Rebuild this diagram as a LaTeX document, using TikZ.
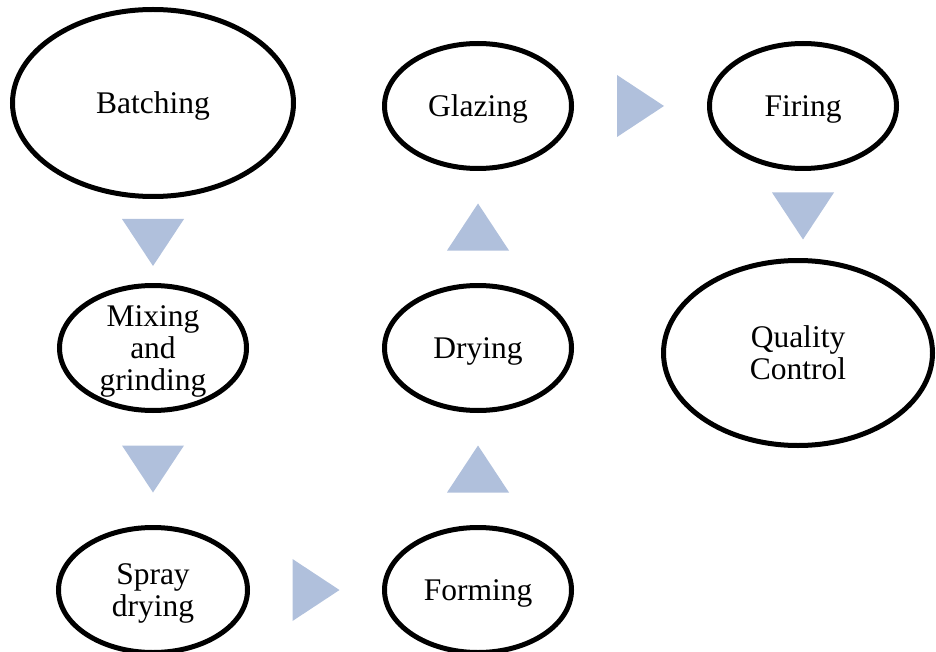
\documentclass[tikz,border=0pt]{standalone}
\usepackage{fontspec}
\setmainfont{Liberation Serif}
\usetikzlibrary{shapes.geometric,calc}
\definecolor{flowfill}{RGB}{176,192,220}
\tikzset{
  stage/.style={ellipse, draw=black, line width=5pt, fill=white, inner sep=0pt,
    align=center, text depth=0pt, font=\fontsize{31.5}{32}\selectfont},
  small/.style={stage, minimum width=187pt, minimum height=125pt},
  pics/flowdown/.style={code={\fill[flowfill] (-31,-23.5) -- (31,-23.5) -- (0,23.5) -- cycle;}},
  pics/flowup/.style={code={\fill[flowfill] (-31,23.5) -- (31,23.5) -- (0,-23.5) -- cycle;}},
  pics/flowright/.style={code={\fill[flowfill] (-23.5,-31) -- (-23.5,31) -- (23.5,0) -- cycle;}}
}
\begin{document}
\begin{tikzpicture}[x=1pt, y=-1pt]
\useasboundingbox (0,0) rectangle (936,652);

% process stages
\node[stage, minimum width=281pt, minimum height=187pt] (batch) at (153,103) {Batching};
\node[small] (mix) at (153,348) {Mixing\\and\\grinding};
\node[small, minimum width=189pt] (spray) at (153,590) {Spray\\drying};
\node[small] (form) at (478,590) {Forming};
\node[small] (dry) at (478,348) {Drying};
\node[small] (glaze) at (478,106) {Glazing};
\node[small] (fire) at (803,106) {Firing};
\node[stage, minimum width=269pt, minimum height=185pt] (qc) at (798,353) {Quality\\Control};

% flow markers between stages
\coordinate (m1) at ($(batch.south)!0.5!(mix.north)$);
\coordinate (m2) at ($(mix.south)!0.5!(spray.north)$);
\coordinate (m3) at ($(spray.east)!0.5!(form.west)$);
\coordinate (m4) at ($(form.north)!0.5!(dry.south)$);
\coordinate (m5) at ($(dry.north)!0.5!(glaze.south)$);
\coordinate (m6) at ($(glaze.east)!0.5!(fire.west)$);
\coordinate (m7) at ($(fire.south)!0.5!(qc.north)$);

\pic at ([yshift=-1.5pt]m1) {flowdown};
\pic at (m2) {flowdown};
\pic at (m3) {flowright};
\pic at (m4) {flowup};
\pic at (m5) {flowup};
\pic at (m6) {flowright};
\pic at ([yshift=-1.5pt]m7 -| fire) {flowdown};
\end{tikzpicture}
\end{document}
